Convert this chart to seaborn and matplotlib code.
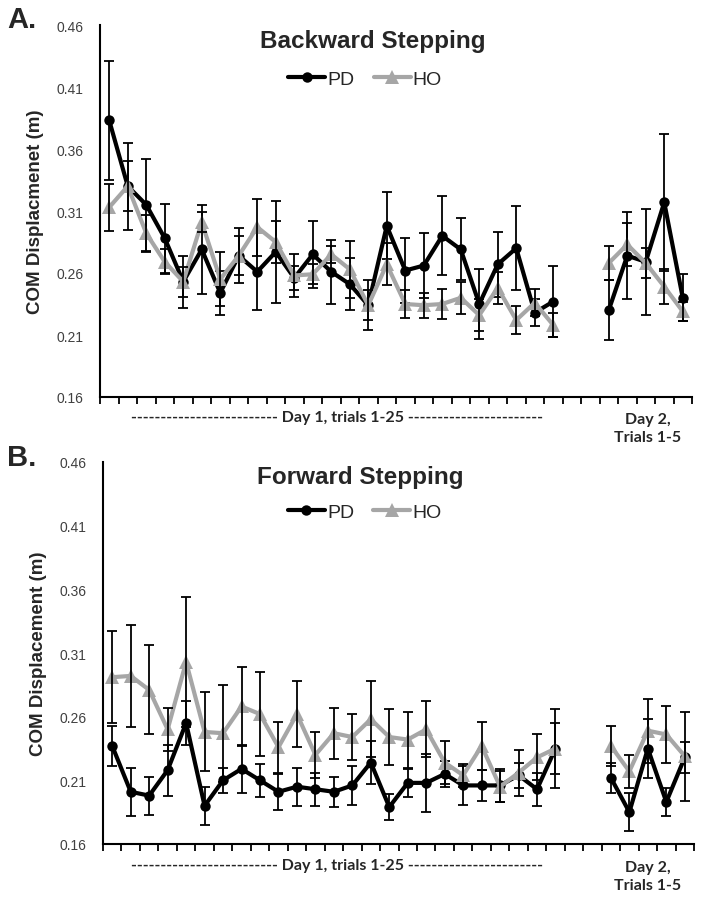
import numpy as np
import pandas as pd
import matplotlib
matplotlib.use("Agg")
import matplotlib.pyplot as plt
from matplotlib.lines import Line2D
import seaborn as sns

# ---------------- data ----------------
groups = ["PD", "HO"]
trials_day1 = list(range(1, 26))
trials_day2 = list(range(1, 6))

back_pd = [0.383, 0.330, 0.315, 0.288, 0.253, 0.279, 0.244, 0.274, 0.261, 0.277,
           0.256, 0.275, 0.261, 0.251, 0.234, 0.298, 0.262, 0.266, 0.290, 0.279,
           0.235, 0.267, 0.280, 0.228, 0.237,
           0.230, 0.274, 0.269, 0.317, 0.240]
back_pd_err = [0.048, 0.020, 0.037, 0.028, 0.021, 0.036, 0.018, 0.022, 0.031, 0.041,
               0.010, 0.027, 0.026, 0.021, 0.020, 0.027, 0.026, 0.026, 0.032, 0.025,
               0.028, 0.026, 0.034, 0.011, 0.029,
               0.024, 0.035, 0.043, 0.055, 0.019]
back_ho = [0.313, 0.330, 0.292, 0.269, 0.253, 0.301, 0.255, 0.274, 0.297, 0.285,
           0.258, 0.259, 0.275, 0.263, 0.234, 0.267, 0.235, 0.234, 0.235, 0.240,
           0.226, 0.248, 0.222, 0.236, 0.218,
           0.268, 0.283, 0.268, 0.249, 0.229]
back_ho_err = [0.019, 0.035, 0.015, 0.010, 0.012, 0.008, 0.022, 0.016, 0.023, 0.017,
               0.017, 0.008, 0.007, 0.023, 0.012, 0.017, 0.011, 0.010, 0.012, 0.013,
               0.013, 0.013, 0.011, 0.011, 0.010,
               0.014, 0.017, 0.012, 0.014, 0.008]

fwd_pd = [0.237, 0.201, 0.198, 0.218, 0.255, 0.190, 0.210, 0.219, 0.210, 0.201,
          0.205, 0.203, 0.201, 0.206, 0.224, 0.189, 0.208, 0.208, 0.215, 0.206,
          0.206, 0.206, 0.214, 0.203, 0.235,
          0.212, 0.185, 0.235, 0.193, 0.228]
fwd_pd_err = [0.016, 0.019, 0.015, 0.020, 0.017, 0.015, 0.010, 0.019, 0.013, 0.014,
              0.015, 0.013, 0.012, 0.015, 0.017, 0.010, 0.011, 0.023, 0.010, 0.015,
              0.012, 0.013, 0.010, 0.013, 0.031,
              0.012, 0.015, 0.023, 0.011, 0.012]
fwd_ho = [0.291, 0.292, 0.281, 0.250, 0.303, 0.248, 0.247, 0.268, 0.262, 0.236,
          0.262, 0.230, 0.247, 0.244, 0.258, 0.244, 0.242, 0.250, 0.224, 0.214,
          0.237, 0.205, 0.216, 0.228, 0.235,
          0.237, 0.217, 0.249, 0.246, 0.229]
fwd_ho_err = [0.036, 0.040, 0.035, 0.017, 0.051, 0.031, 0.038, 0.031, 0.033, 0.020,
              0.026, 0.018, 0.020, 0.018, 0.030, 0.022, 0.022, 0.022, 0.017, 0.009,
              0.019, 0.012, 0.018, 0.018, 0.020,
              0.016, 0.013, 0.025, 0.022, 0.035]

y_ticks = [0.16, 0.21, 0.26, 0.31, 0.36, 0.41, 0.46]

# ---------------- style ----------------
sns.set_style("white")
plt.rcParams["font.family"] = ["Liberation Sans", "DejaVu Sans"]

colors = {"PD": "#000000", "HO": "#a6a6a6"}
markers = {"PD": "o", "HO": "^"}
msize = {"PD": 7.5, "HO": 9.5}

n_gap = 2
pos_day1 = list(range(len(trials_day1)))
pos_day2 = [len(trials_day1) + n_gap + i for i in range(len(trials_day2))]
positions = pos_day1 + pos_day2
segments = ["Day 1"] * len(trials_day1) + ["Day 2"] * len(trials_day2)
n_cat = len(trials_day1) + n_gap + len(trials_day2)


def build_df(pd_vals, ho_vals):
    rows = []
    for g, vals in (("PD", pd_vals), ("HO", ho_vals)):
        for p, s, v in zip(positions, segments, vals):
            rows.append({"pos": p, "segment": s, "group": g, "value": v})
    return pd.DataFrame(rows)


fig = plt.figure(figsize=(7.04, 9.04), dpi=100)
W, H = 704, 904
ax1 = fig.add_axes([100 / W, 1 - 398 / H, 592 / W, 372 / H])
ax2 = fig.add_axes([103 / W, 1 - 845 / H, 591 / W, 382 / H])

panels = [
    (ax1, back_pd, back_pd_err, back_ho, back_ho_err, "Backward Stepping",
     "COM Displacmenet (m)", (0.461, 0.957), (0.448, 0.855)),
    (ax2, fwd_pd, fwd_pd_err, fwd_ho, fwd_ho_err, "Forward Stepping",
     "COM Displacement (m)", (0.435, 0.963), (0.443, 0.869)),
]

for ax, pdv, pde, hov, hoe, title, ylab, tpos, lpos in panels:
    df = build_df(pdv, hov)
    for g, vals, errs, z in (("PD", pdv, pde, 2.0), ("HO", hov, hoe, 2.2)):
        sub = df[df["group"] == g]
        sns.lineplot(data=sub, x="pos", y="value", units="segment", estimator=None,
                     color=colors[g], marker=markers[g], markersize=msize[g],
                     markeredgewidth=0, linewidth=3, sort=False, ax=ax,
                     legend=False, zorder=z)
        ax.errorbar(positions, vals, yerr=errs, fmt="none", ecolor="black",
                    elinewidth=1.3, capsize=3.5, capthick=1.3, zorder=z + 0.1)

    ax.set_xlim(-0.5, n_cat - 0.5)
    ax.set_ylim(y_ticks[0], y_ticks[-1])
    ax.set_yticks(y_ticks)
    ax.set_yticklabels([f"{t:.2f}" for t in y_ticks])
    ax.set_xticks(np.arange(-0.5, n_cat, 1.0))
    ax.set_xticklabels([])
    ax.tick_params(axis="x", direction="out", length=5, width=1.3, color="black",
                   bottom=True)
    ax.tick_params(axis="y", length=0, labelsize=10, labelcolor="#404040", pad=12)
    ax.set_xlabel("")
    ax.set_ylabel(ylab, fontsize=13.5, fontweight="bold", labelpad=9)
    for side in ("top", "right"):
        ax.spines[side].set_visible(False)
    for side in ("left", "bottom"):
        ax.spines[side].set_color("black")
        ax.spines[side].set_linewidth(1.5)

    ax.text(tpos[0], tpos[1], title, transform=ax.transAxes, ha="center",
            va="center", fontsize=17.5, fontweight="bold")
    handles = [Line2D([], [], color=colors[g], marker=markers[g],
                      markersize=msize[g], markeredgewidth=0, linewidth=3)
               for g in groups]
    ax.legend(handles, groups, loc="center", bbox_to_anchor=lpos, ncol=2,
              frameon=False, fontsize=14, handlelength=1.9, handletextpad=0.1,
              columnspacing=1.0)

# panel letters
fig.text(7 / W, 1 - 20 / H, "A.", fontsize=21, fontweight="bold", ha="left", va="center")
fig.text(7 / W, 1 - 458 / H, "B.", fontsize=21, fontweight="bold", ha="left", va="center")

# x-axis group annotations
day1_text = "-" * 25 + " Day 1, trials 1-25 " + "-" * 23
for ybase in (418, 866):
    fig.text(337 / W, 1 - ybase / H, day1_text, fontsize=11.5, fontweight="bold",
             family=["Lato", "DejaVu Sans"], ha="center", va="center")
    fig.text(648 / W, 1 - (ybase + 11) / H, "Day 2,\nTrials 1-5", fontsize=11.5,
             fontweight="bold", family=["Lato", "DejaVu Sans"], ha="center",
             va="center", linespacing=1.45)

fig.savefig("out.png", dpi=100)
